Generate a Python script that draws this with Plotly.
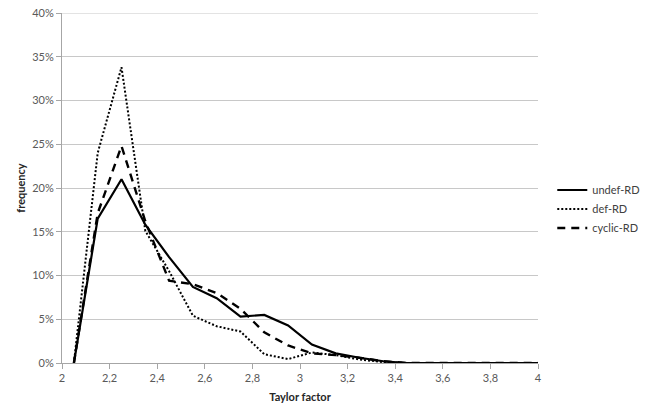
import plotly.graph_objects as go

taylor = [2.05, 2.15, 2.25, 2.35, 2.45, 2.55, 2.65, 2.75, 2.85, 2.95,
          3.05, 3.15, 3.25, 3.35, 3.45, 3.55, 3.65, 3.75, 3.85, 3.95, 4.0]
undef_rd = [0.0, 16.5, 21.0, 15.8, 12.1, 8.7, 7.4, 5.3, 5.5, 4.3,
            2.1, 1.1, 0.6, 0.2, 0.0, 0.0, 0.0, 0.0, 0.0, 0.0, 0.0]
def_rd = [0.0, 24.0, 33.8, 15.1, 10.5, 5.4, 4.2, 3.6, 1.0, 0.45,
          1.2, 0.9, 0.4, 0.1, 0.0, 0.0, 0.0, 0.0, 0.0, 0.0, 0.0]
cyclic_rd = [0.0, 17.1, 24.8, 16.2, 9.4, 9.0, 8.0, 6.2, 3.5, 2.0,
             1.1, 0.9, 0.6, 0.2, 0.0, 0.0, 0.0, 0.0, 0.0, 0.0, 0.0]

x_ticks = [2, 2.2, 2.4, 2.6, 2.8, 3, 3.2, 3.4, 3.6, 3.8, 4]
y_max = 0.4

FONT = "Lato"
fig = go.Figure()
fig.add_trace(go.Scatter(x=taylor, y=[v / 100 for v in undef_rd], name="undef-RD",
                         mode="lines", line=dict(color="black", width=2.2)))
fig.add_trace(go.Scatter(x=taylor, y=[v / 100 for v in def_rd], name="def-RD",
                         mode="lines", line=dict(color="black", width=2, dash="2px,2px")))
fig.add_trace(go.Scatter(x=taylor, y=[v / 100 for v in cyclic_rd], name="cyclic-RD",
                         mode="lines", line=dict(color="black", width=2.4, dash="8px,6px")))

# top gridline (plotly omits gridlines at the range end)
fig.add_shape(type="line", xref="paper", x0=0, x1=1, yref="y", y0=y_max, y1=y_max,
              line=dict(color="#c8c8c8", width=1), layer="below")

fig.update_layout(
    width=647, height=416,
    margin=dict(l=62, r=109, t=13, b=53, autoexpand=False),
    paper_bgcolor="white", plot_bgcolor="white",
    separators=", ",
    font=dict(family=FONT, size=11, color="#595959"),
    legend=dict(x=1.03, y=0.44, xanchor="left", yanchor="middle",
                font=dict(family=FONT, size=11, color="#404040"),
                bgcolor="rgba(0,0,0,0)", tracegroupgap=6, itemwidth=30),
    showlegend=True,
)
fig.update_xaxes(range=[2, 4], tickvals=x_ticks, showgrid=False, automargin=False,
                 showline=True, linecolor="#a6a6a6", linewidth=1,
                 ticks="outside", ticklen=5, tickcolor="#a6a6a6",
                 zeroline=False,
                 title=dict(text="<b>Taylor factor</b>", font=dict(family=FONT, size=11, color="#262626"),
                            standoff=10))
fig.update_yaxes(range=[0, y_max], dtick=0.05, tickformat=".0%", automargin=False,
                 ticklabeloverflow="allow",
                 showgrid=True, gridcolor="#c8c8c8", gridwidth=1,
                 showline=True, linecolor="#a6a6a6", linewidth=1,
                 ticks="outside", ticklen=5, tickcolor="#a6a6a6",
                 zeroline=False,
                 title=dict(text="<b>frequency</b>", font=dict(family=FONT, size=11, color="#262626"),
                            standoff=4))

fig.write_html("out.html", config={"displayModeBar": False},
               post_script="document.body.style.margin='0';")
